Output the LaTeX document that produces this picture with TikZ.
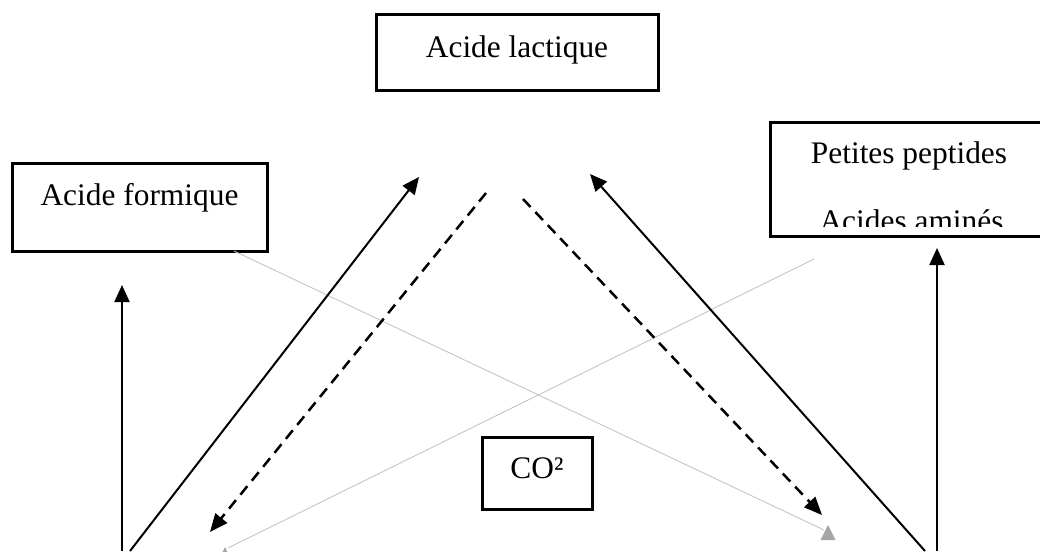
\documentclass[tikz,border=0pt]{standalone}
\usepackage{fontspec}
\setmainfont{Liberation Serif}
\usetikzlibrary{arrows.meta}
\definecolor{linegrey}{HTML}{C4C4C4}
\definecolor{tipgrey}{HTML}{A6A6A6}
\begin{document}
\begin{tikzpicture}[x=1pt,y=-1pt,
  box/.style={draw, line width=3pt, inner sep=0pt},
  label/.style={anchor=base, inner sep=0pt, font=\fontsize{31.4}{38}\selectfont},
  solidarrow/.style={line width=2pt, -{Triangle[length=17pt,width=15pt]}},
  dasharrow/.style={line width=2.5pt, dash pattern=on 11pt off 7pt,
    -{Triangle[length=18pt,width=15pt]}},
  greyline/.style={draw=linegrey, line width=0.9pt},
  greytip/.style={fill=tipgrey, draw=none}]

\useasboundingbox (0,0) rectangle (1040,551);
\clip (0,0) rectangle (1040,551);

% boxes
\node[box, minimum width=282pt, minimum height=75pt]  (lactique) at (517,52.5) {};
\node[box, minimum width=255pt, minimum height=88pt]  (formique) at (139.5,207) {};
\node[box, minimum width=278pt, minimum height=114pt] (peptides) at (909,179) {};
\node[box, minimum width=110pt, minimum height=72pt]  (co2)      at (537,473) {};

% labels
\node[label] (lactiquetxt) at (517,57)   {Acide lactique};
\node[label] (formiquetxt) at (139.5,205) {Acide formique};
\node[label] (peptidestxt) at (909,163)  {Petites peptides};
\begin{scope}
  \clip (772,124) rectangle (1046,226);
  \node[label] (aminestxt) at (911.5,231) {Acides aminés};
\end{scope}
\node[label] (co2txt) at (537,478) {CO²};

% connector end points
\coordinate (ls0) at (130,551);  \coordinate (ls1) at (419,177);
\coordinate (rs0) at (925,551);  \coordinate (rs1) at (590,174);
\coordinate (lv0) at (122,551);  \coordinate (lv1) at (122,285);
\coordinate (rv0) at (937,551);  \coordinate (rv1) at (937,248);
\coordinate (ld0) at (486,193);  \coordinate (ld1) at (210,532);
\coordinate (rd0) at (523,199);  \coordinate (rd1) at (822,515);
\coordinate (g10) at (234,251);  \coordinate (g11) at (824,530);
\coordinate (g20) at (814,259);  \coordinate (g21) at (228,548);

% thin grey lines and their tips
\draw[greyline] (g10) -- (g11);
\draw[greyline] (g20) -- (g21);
\fill[greytip] (828,525) -- (835.5,540) -- (820.5,540) -- cycle;
\fill[greytip] (225,547) -- (232.5,562) -- (217.5,562) -- cycle;

% solid arrows
\draw[solidarrow] (ls0) -- (ls1);
\draw[solidarrow] (rs0) -- (rs1);
\draw[solidarrow] (lv0) -- (lv1);
\draw[solidarrow] (rv0) -- (rv1);

% dashed arrows
\draw[dasharrow] (ld0) -- (ld1);
\draw[dasharrow] (rd0) -- (rd1);
\end{tikzpicture}
\end{document}
